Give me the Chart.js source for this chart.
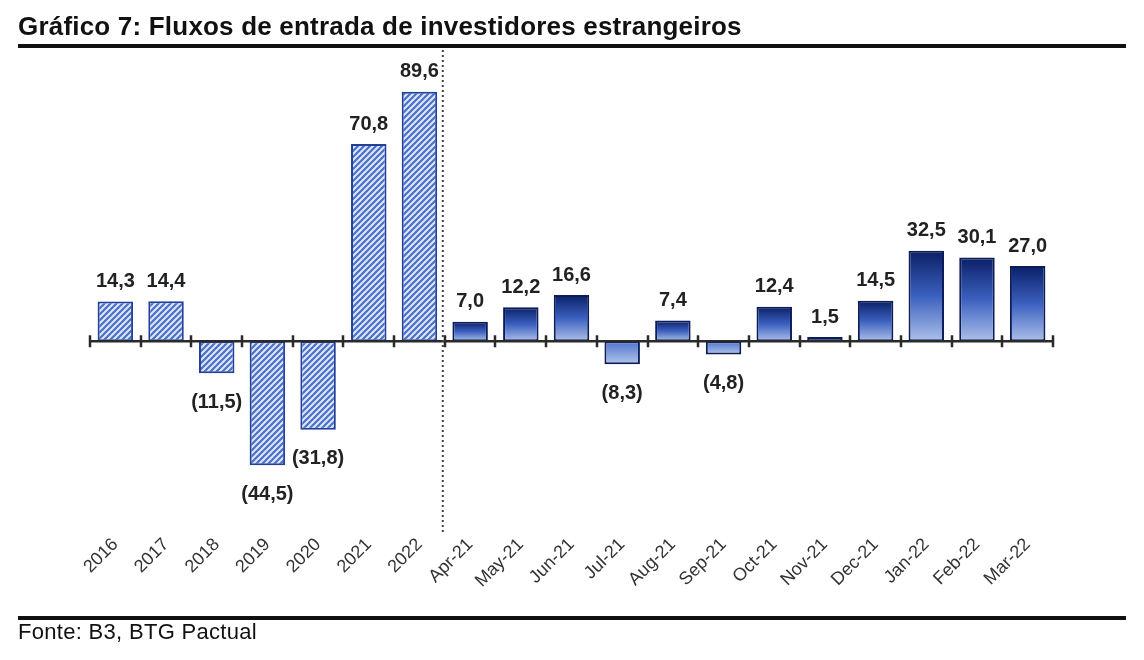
<!DOCTYPE html>
<html>
<head>
<meta charset="utf-8">
<script src="https://cdn.jsdelivr.net/npm/chart.js@4.4.1/dist/chart.umd.min.js"></script>
<style>
  body { margin: 0; background: #fff; }
  #wrap { position: relative; width: 1144px; height: 660px; }
  #chartBox { position: absolute; left: 0; top: 0; width: 1144px; height: 660px; }
  .title { position: absolute; left: 18px; top: 11px; font: bold 26px "Liberation Sans", Arial, sans-serif; color: #111; letter-spacing: 0.2px; }
  .rule { position: absolute; left: 18px; width: 1108px; height: 4px; background: #111; }
  .source { position: absolute; left: 18px; top: 619px; font: 22px "Liberation Sans", Arial, sans-serif; color: #111; letter-spacing: 0.3px; }
</style>
</head>
<body>
<div id="wrap">
  <div id="chartBox"><canvas id="myChart"></canvas></div>
  <div class="title">Gráfico 7: Fluxos de entrada de investidores estrangeiros</div>
  <div class="rule" style="top:44px"></div>
  <div class="rule" style="top:616px"></div>
  <div class="source">Fonte: B3, BTG Pactual</div>
</div>
<script>
let labels = ['2016', '2017', '2018', '2019', '2020', '2021', '2022',
  'Apr-21', 'May-21', 'Jun-21', 'Jul-21', 'Aug-21', 'Sep-21', 'Oct-21',
  'Nov-21', 'Dec-21', 'Jan-22', 'Feb-22', 'Mar-22'];
let values = [14.3, 14.4, -11.5, -44.5, -31.8, 70.8, 89.6,
  7.0, 12.2, 16.6, -8.3, 7.4, -4.8, 12.4, 1.5, 14.5, 32.5, 30.1, 27.0];
let yearCount = 7; // first 7 bars are yearly totals (hatched)

let ctx = document.getElementById('myChart').getContext('2d');

// diagonal hatch for the yearly bars
function makeHatch() {
  let c = document.createElement('canvas');
  c.width = 6; c.height = 6;
  let g = c.getContext('2d');
  g.fillStyle = '#dfe7f8';
  g.fillRect(0, 0, 6, 6);
  g.strokeStyle = '#4a70c8';
  g.lineWidth = 2.2;
  g.beginPath();
  g.moveTo(0, 6); g.lineTo(6, 0);
  g.moveTo(-1, 1); g.lineTo(1, -1);
  g.moveTo(5, 7); g.lineTo(7, 5);
  g.stroke();
  return ctx.createPattern(c, 'repeat');
}
let hatch = makeHatch();

function barFill(context) {
  let i = context.dataIndex;
  if (i < yearCount) return hatch;
  let chart = context.chart;
  let y = chart.scales.y;
  if (!y || !chart.chartArea) return '#3a62c4';
  let v = values[i];
  let top = y.getPixelForValue(Math.max(v, 0));
  let bottom = y.getPixelForValue(Math.min(v, 0));
  if (bottom - top < 1) return '#0d2777';
  let g = chart.ctx.createLinearGradient(0, top, 0, bottom);
  if (v >= 0) {
    g.addColorStop(0, '#0a1f66');
    g.addColorStop(0.5, '#3b60bf');
    g.addColorStop(1, '#adc0ea');
  } else {
    g.addColorStop(0, '#4e73cc');
    g.addColorStop(1, '#b3c5ec');
  }
  return g;
}

// zero line, tick marks, divider and value labels
let decorations = {
  id: 'decorations',
  afterDatasetsDraw(chart) {
    let c = chart.ctx;
    let x = chart.scales.x;
    let y = chart.scales.y;
    let zero = y.getPixelForValue(0);
    let step = x.getPixelForValue(1) - x.getPixelForValue(0);
    let left = x.getPixelForValue(0) - step / 2;
    c.save();
    c.strokeStyle = '#2a2a2a';
    c.lineWidth = 2.5;
    c.beginPath();
    c.moveTo(left, zero);
    c.lineTo(left + step * labels.length, zero);
    for (let i = 0; i <= labels.length; i++) {
      let px = Math.round(left + step * i);
      c.moveTo(px, zero - 6);
      c.lineTo(px, zero + 6);
    }
    c.stroke();

    // dotted divider between years and months
    let dx = left + step * yearCount - 2;
    c.strokeStyle = '#444';
    c.lineWidth = 2;
    c.setLineDash([2, 3]);
    c.beginPath();
    c.moveTo(dx, 50);
    c.lineTo(dx, 535);
    c.stroke();
    c.setLineDash([]);

    // value labels
    c.fillStyle = '#222';
    c.font = 'bold 20px "Liberation Sans", Arial, sans-serif';
    c.textAlign = 'center';
    let meta = chart.getDatasetMeta(0);
    meta.data.forEach((bar, i) => {
      let v = values[i];
      let txt = Math.abs(v).toFixed(1).replace('.', ',');
      if (v < 0) {
        c.textBaseline = 'top';
        c.fillText('(' + txt + ')', bar.x, bar.y + 19);
      } else {
        c.textBaseline = 'bottom';
        c.fillText(txt, bar.x, bar.y - 10);
      }
    });
    c.restore();
  }
};

let myChart = new Chart(ctx, {
  type: 'bar',
  data: {
    labels: labels,
    datasets: [{
      data: values,
      backgroundColor: barFill,
      borderColor: (context) => context.dataIndex < yearCount ? '#22409a' : '#0b1c58',
      borderWidth: 2,
      borderSkipped: false,
      barPercentage: 0.7,
      categoryPercentage: 1.0
    }]
  },
  options: {
    responsive: true,
    maintainAspectRatio: false,
    animation: false,
    layout: {
      padding: { left: 90, right: 91, top: 60, bottom: 55 }
    },
    plugins: {
      legend: { display: false },
      tooltip: { enabled: false }
    },
    scales: {
      x: {
        grid: { display: false },
        border: { display: false },
        ticks: {
          color: '#333',
          maxRotation: 45,
          minRotation: 45,
          padding: 1,
          font: { family: '"Liberation Sans", Arial, sans-serif', size: 18 }
        },
        afterFit: (scale) => { scale.height = 80; }
      },
      y: {
        display: false,
        min: -66,
        max: 101
      }
    }
  },
  plugins: [decorations]
});
</script>
</body>
</html>
